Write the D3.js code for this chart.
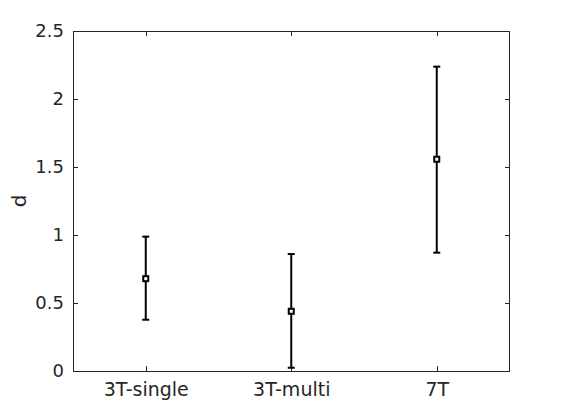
<!DOCTYPE html>
<html><head><meta charset="utf-8">
<script src="https://cdn.jsdelivr.net/npm/d3@7"></script>
<style>body{margin:0;background:#fff}svg{display:block}text{font-family:"DejaVu Sans",sans-serif}</style>
</head><body>
<svg id="c" width="564" height="418"></svg>
<script>
const categories = ["3T-single","3T-multi","7T"];
const means = [0.679, 0.439, 1.557];
const lower = [0.377, 0.024, 0.870];
const upper = [0.988, 0.860, 2.238];
const yTicks = [0, 0.5, 1, 1.5, 2, 2.5];
const yTickLabels = ["0","0.5","1","1.5","2","2.5"];
const yLabel = "d";

(function(){
const svg = d3.select("#c");
const L = 73, R = 509.5, T = 31, B = 371;
const ink = "#262626";
const x = d3.scaleLinear().domain([0.5, 3.5]).range([L, R]);
const y = d3.scaleLinear().domain([0, 2.5]).range([B, T]);

svg.append("rect").attr("x", L).attr("y", T).attr("width", R - L).attr("height", B - T)
  .attr("fill", "none").attr("stroke", ink).attr("stroke-width", 1).attr("shape-rendering","crispEdges");

const xs = categories.map((d,i)=>i+1);
const axB = d3.axisBottom(x).tickValues(xs).tickFormat((d,i)=>categories[i]).tickSizeInner(-5).tickSizeOuter(0).tickPadding(12);
const axT = d3.axisTop(x).tickValues(xs).tickFormat("").tickSizeInner(-5).tickSizeOuter(0);
const axL = d3.axisLeft(y).tickValues(yTicks).tickFormat((d,i)=>yTickLabels[i]).tickSizeInner(-5).tickSizeOuter(0).tickPadding(9);
const axR = d3.axisRight(y).tickValues(yTicks).tickFormat("").tickSizeInner(-5).tickSizeOuter(0);

function style(fs){
  return function(sel){
    sel.select(".domain").remove();
    sel.selectAll("line").attr("stroke", ink).attr("shape-rendering","crispEdges");
    sel.selectAll("text").attr("fill", ink).style("font-size", fs + "px").style("font-family","DejaVu Sans, sans-serif");
  };
}
svg.append("g").attr("transform",`translate(0,${B})`).call(axB).call(style(19));
svg.append("g").attr("transform",`translate(0,${T})`).call(axT).call(style(18));
svg.append("g").attr("transform",`translate(${L},0)`).call(axL).call(style(18));
svg.append("g").attr("transform",`translate(${R},0)`).call(axR).call(style(18));

svg.append("text").attr("transform",`translate(26,${(T+B)/2}) rotate(-90)`)
  .attr("text-anchor","middle").attr("fill", ink).style("font-size","20px").text(yLabel);

const eb = svg.append("g").attr("stroke","#000").attr("stroke-width",2).attr("fill","none");
categories.forEach((c,i)=>{
  const cx = x(i+1);
  eb.append("line").attr("x1",cx).attr("x2",cx).attr("y1",y(lower[i])).attr("y2",y(upper[i]));
  eb.append("line").attr("x1",cx-3.5).attr("x2",cx+3.5).attr("y1",y(lower[i])).attr("y2",y(lower[i]));
  eb.append("line").attr("x1",cx-3.5).attr("x2",cx+3.5).attr("y1",y(upper[i])).attr("y2",y(upper[i]));
  eb.append("rect").attr("x",cx-2.5).attr("y",y(means[i])-2.5).attr("width",5).attr("height",5)
    .attr("fill","#fff").attr("stroke-width",2);
});
})();
</script>
</body></html>
